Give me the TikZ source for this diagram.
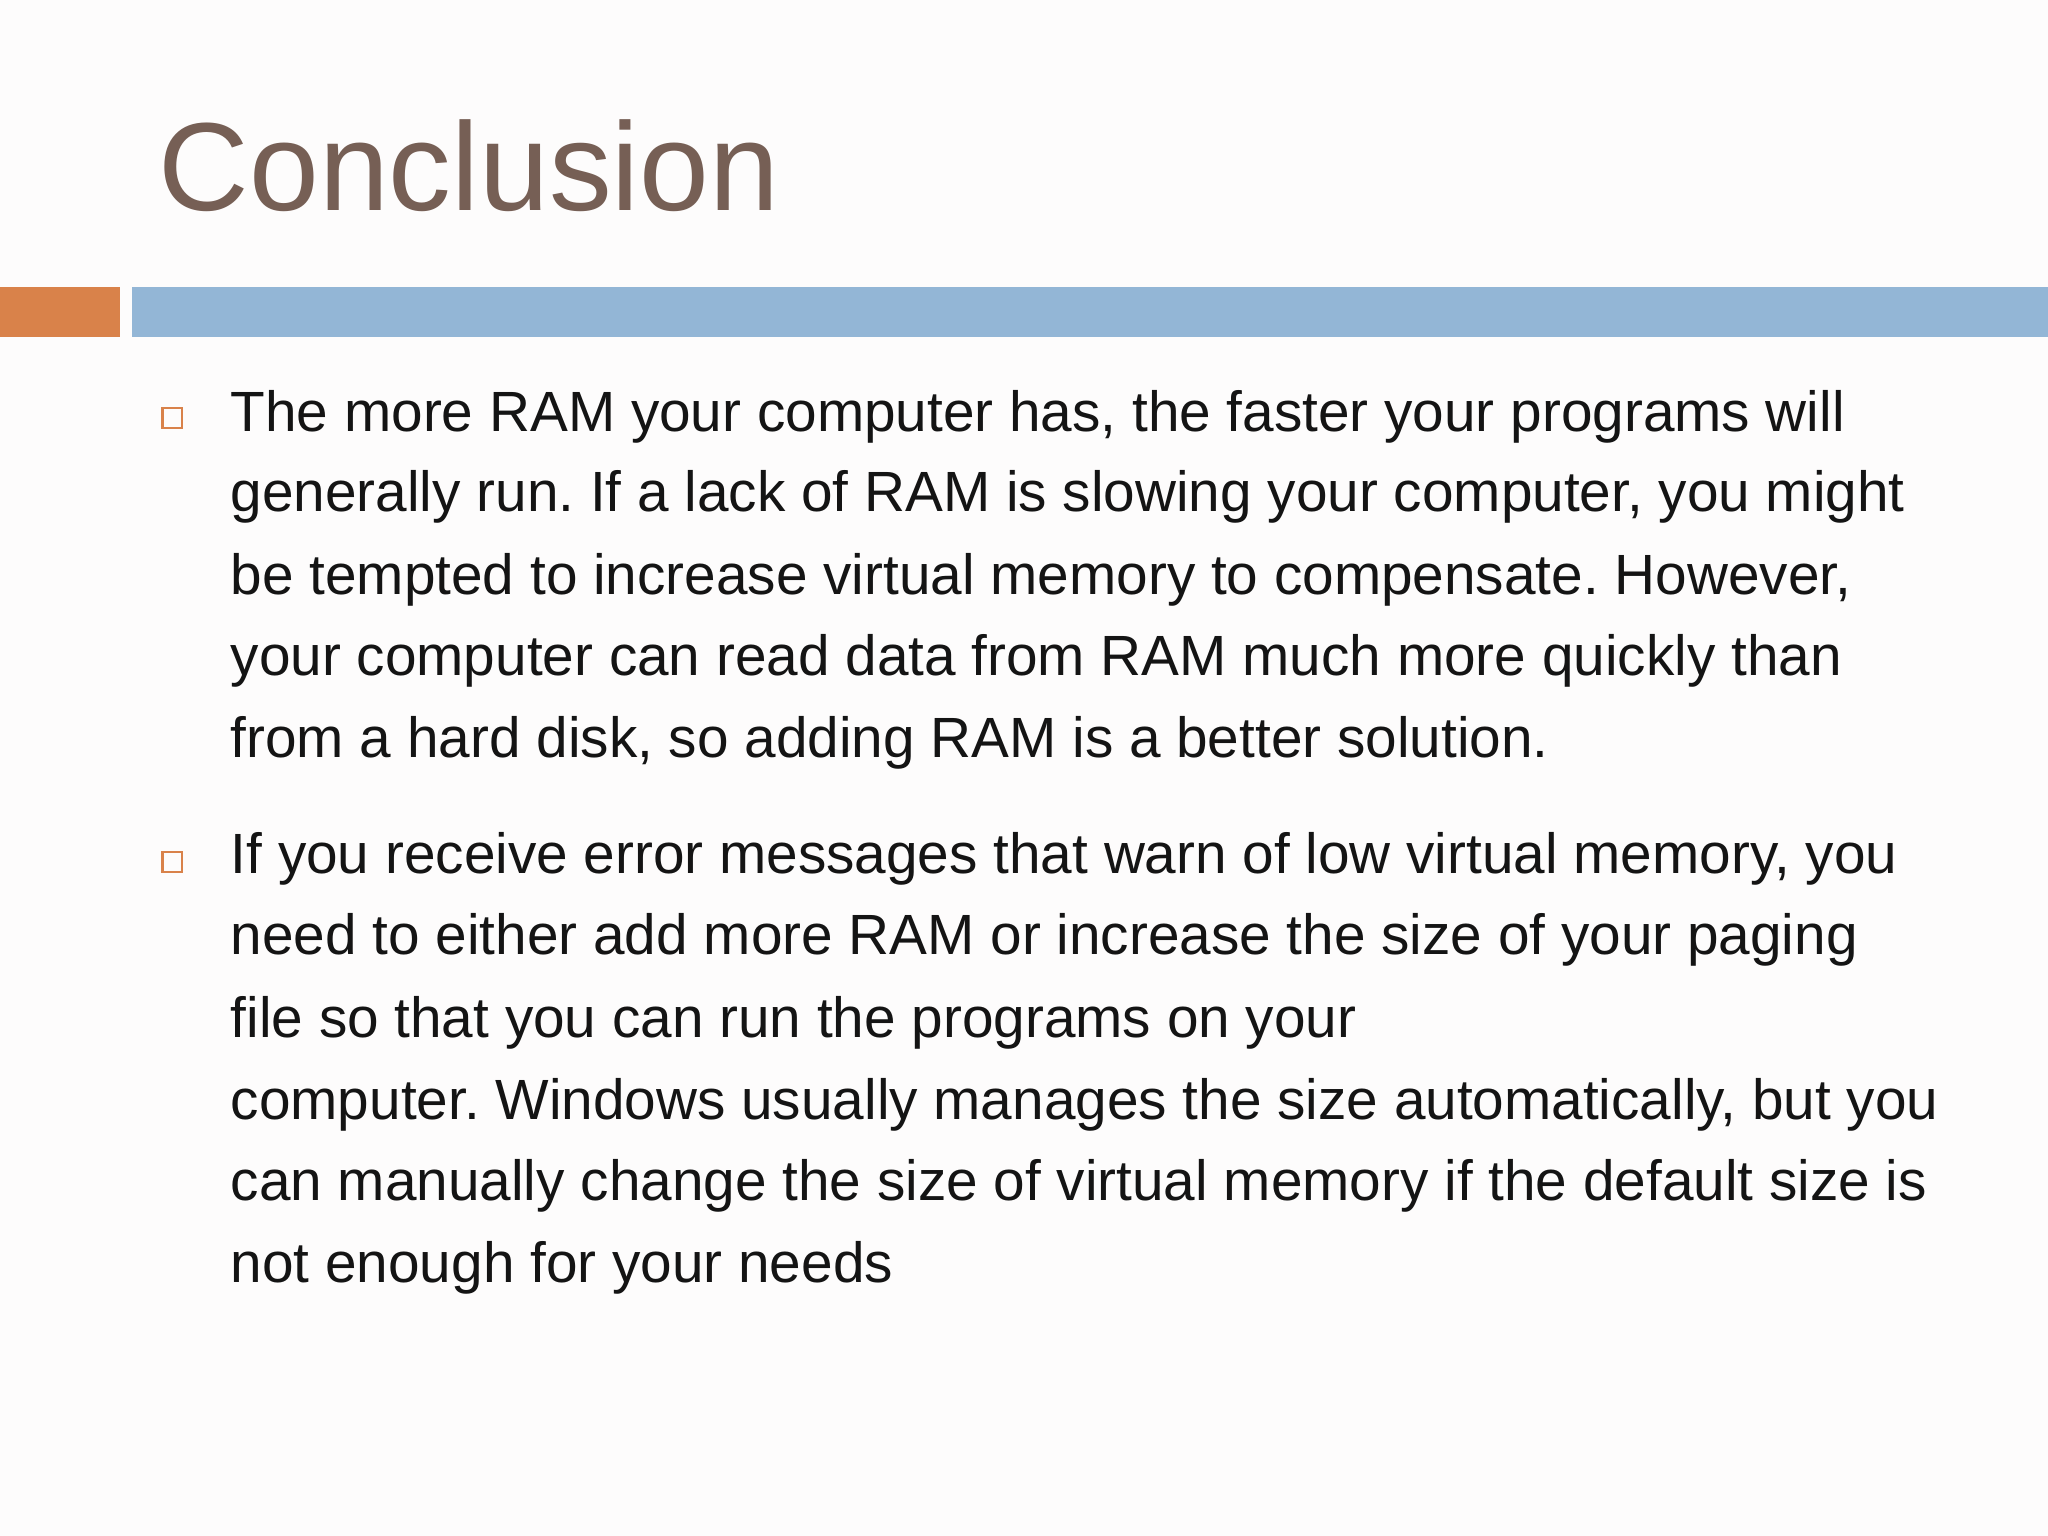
\documentclass[tikz,border=0pt]{standalone}
\usepackage{fontspec}
\setmainfont{Liberation Sans}
\frenchspacing
\definecolor{titlec}{RGB}{118,95,85}
\definecolor{orangec}{RGB}{217,130,74}
\definecolor{bluec}{RGB}{147,182,214}
\definecolor{bgc}{RGB}{253,252,252}
\definecolor{txt}{RGB}{20,20,20}
\tikzset{line/.style={anchor=base west,inner sep=0pt,font=\fontsize{12.35pt}{14pt}\selectfont,text=txt},
bul/.style={draw=orangec,line width=0.5pt,minimum size=0.15cm,inner sep=0pt}}
\begin{document}
\begin{tikzpicture}[x=0.01cm,y=-0.01cm]
\fill[bgc] (0,0) rectangle (1568,1176);
\useasboundingbox (0,0) rectangle (1568,1176);
\node[anchor=base west,inner sep=0pt,text=titlec,font=\fontsize{27.3pt}{32pt}\selectfont] (title) at (121,161) {Conclusion};
\fill[orangec] (0,220) rectangle (92,258);
\fill[bluec] (101,220) rectangle (1568,258);
\node[bul] (b1) at (132,320) {};
\node[bul] (b2) at (132,660) {};
\node[line] (l1) at (176,330) {The more RAM your computer has, the faster your programs will};
\node[line] (l2) at (176,392) {generally run. If a lack of RAM is slowing your computer, you might};
\node[line] (l3) at (176,455) {be tempted to increase virtual memory to compensate. However,};
\node[line] (l4) at (176,517) {your computer can read data from RAM much more quickly than};
\node[line] (l5) at (176,580) {from a hard disk, so adding RAM is a better solution.};
\node[line] (m1) at (176,669) {If you receive error messages that warn of low virtual memory, you};
\node[line] (m2) at (176,731) {need to either add more RAM or increase the size of your paging};
\node[line] (m3) at (176,794) {file so that you can run the programs on your};
\node[line] (m4) at (176,857) {computer. Windows usually manages the size automatically, but you};
\node[line] (m5) at (176,919) {can manually change the size of virtual memory if the default size is};
\node[line] (m6) at (176,982) {not enough for your needs};
\end{tikzpicture}
\end{document}
